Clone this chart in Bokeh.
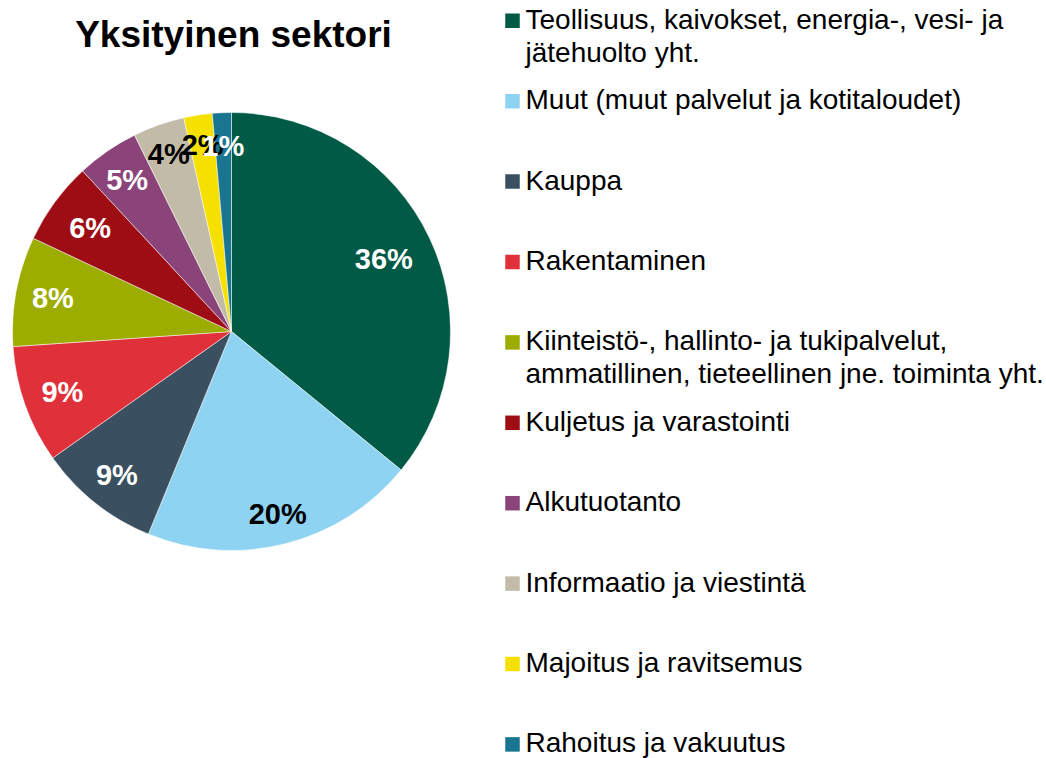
import math
from bokeh.plotting import figure
from bokeh.models import ColumnDataSource
from bokeh.core.properties import value
from bokeh.embed import file_html
from bokeh.resources import INLINE

# ---- data ----
categories = [
    "Teollisuus, kaivokset, energia-, vesi- ja\njätehuolto yht.",
    "Muut (muut palvelut ja kotitaloudet)",
    "Kauppa",
    "Rakentaminen",
    "Kiinteistö-, hallinto- ja tukipalvelut,\nammatillinen, tieteellinen jne. toiminta yht.",
    "Kuljetus ja varastointi",
    "Alkutuotanto",
    "Informaatio ja viestintä",
    "Majoitus ja ravitsemus",
    "Rahoitus ja vakuutus",
]
shares = [35.9, 20.3, 9.0, 8.7, 8.1, 6.1, 4.6, 3.8, 2.1, 1.4]
title_text = "Yksityinen sektori"

# ---- style ----
colors = ["#005A46", "#8FD3F3", "#3A5060", "#E0303A", "#9CAD00",
          "#9E0C14", "#8B4479", "#C2BBA8", "#F5E000", "#1A7690"]
label_colors = ["white", "black", "white", "white", "white",
                "white", "white", "black", "black", "white"]
label_rfrac = [0.77, 0.86, 0.84, 0.82, 0.83, 0.80, 0.84, 0.86, 0.86, 0.85]

W, H = 1046, 758
cx, cy = 231, H - 331
R = 219
FONT = value("Liberation Sans")

p = figure(width=W, height=H, x_range=(0, W), y_range=(0, H),
           x_axis_type=None, y_axis_type=None, min_border=0,
           toolbar_location=None, output_backend="svg")
p.grid.visible = False
p.outline_line_color = None
p.background_fill_color = "white"

total = sum(shares)
starts, ends, lx, ly, ltxt = [], [], [], [], []
cum = 0.0
for i, v in enumerate(shares):
    a0 = math.pi / 2 - 2 * math.pi * cum / total
    cum += v
    a1 = math.pi / 2 - 2 * math.pi * cum / total
    starts.append(a0)
    ends.append(a1)
    am = (a0 + a1) / 2
    r = R * label_rfrac[i]
    lx.append(cx + r * math.cos(am))
    ly.append(cy + r * math.sin(am))
    ltxt.append(f"{round(v)}%")

src = ColumnDataSource(dict(start=starts, end=ends, color=colors))
p.wedge(x=cx, y=cy, radius=R, start_angle="start", end_angle="end",
        direction="clock", fill_color="color", line_color="white",
        line_width=0.5, source=src)

lsrc = ColumnDataSource(dict(x=lx, y=ly, t=ltxt, c=label_colors))
p.text(x="x", y="y", text="t", text_color="c", source=lsrc,
       text_font=FONT, text_font_style="bold", text_font_size="29px",
       text_align="center", text_baseline="middle")

# title
p.text(x=[233], y=[H - 34], text=[title_text], text_font=FONT,
       text_font_style="bold", text_font_size="37px",
       text_align="center", text_baseline="middle", text_color="black")

# legend
leg_top = 20.3
leg_step = 80.4
sq_x = 512
txt_x = 525
line_h = 32.7
sqx, sqy, tx, ty, tt = [], [], [], [], []
for i, cat in enumerate(categories):
    yc = leg_top + i * leg_step
    sqx.append(sq_x)
    sqy.append(H - yc)
    for j, line in enumerate(cat.split("\n")):
        tx.append(txt_x)
        ty.append(H - (yc - 1.5 + j * line_h))
        tt.append(line)
p.rect(x=sqx, y=sqy, width=14.5, height=14.5, fill_color=colors, line_color=None)
p.text(x=tx, y=ty, text=tt, text_font=FONT, text_font_size="28px",
       text_align="left", text_baseline="middle", text_color="black")

open("out.html", "w").write(file_html(p, INLINE))
